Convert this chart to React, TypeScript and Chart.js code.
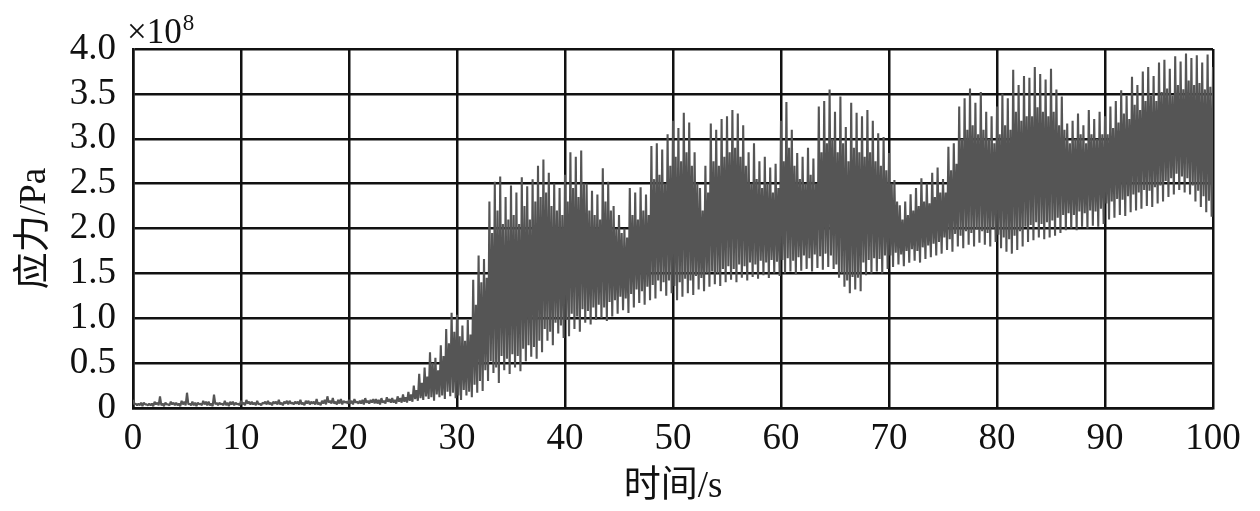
import React, { useEffect, useRef } from "react";
import { Chart, registerables } from "chart.js";

Chart.register(...registerables);

// Stress signal in units of 10^8 Pa.
// Each 0.5 s holds four extrema: peak (t), minor trough (t+0.125),
// minor peak (t+0.25), trough (t+0.375).

// peaks: outer local maxima at t = 0, 0.5, 1.0, ... 100 s
const peaks: number[] = [
  0.09, 0.05, 0.06, 0.05, 0.07, 0.13, 0.06, 0.07, 0.06, 0.08,
  0.17, 0.07, 0.06, 0.08, 0.07, 0.15, 0.06, 0.08, 0.07, 0.06,
  0.08, 0.09, 0.07, 0.08, 0.06, 0.08, 0.07, 0.09, 0.07, 0.08,
  0.07, 0.09, 0.08, 0.07, 0.10, 0.08, 0.13, 0.11, 0.09, 0.08,
  0.09, 0.10, 0.08, 0.11, 0.09, 0.10, 0.11, 0.12, 0.11, 0.13,
  0.15, 0.18, 0.25, 0.38, 0.45, 0.62, 0.56, 0.70, 0.88, 1.06,
  1.04, 0.92, 0.98, 1.43, 1.70, 1.66, 2.30, 2.52, 2.58, 2.35,
  2.48, 2.40, 2.57, 2.47, 2.55, 2.70, 2.77, 2.62, 2.50, 2.45,
  2.60, 2.85, 2.80, 2.87, 2.50, 2.42, 2.38, 2.67, 2.52, 2.25,
  2.15, 2.00, 2.45, 2.40, 2.46, 2.38, 2.92, 2.95, 2.88, 3.05,
  3.20, 3.12, 3.29, 3.18, 2.85, 2.45, 2.70, 3.17, 3.10, 3.22,
  3.25, 3.32, 3.28, 3.15, 2.85, 2.95, 2.75, 2.80, 2.68, 2.72,
  3.20, 3.41, 3.10, 2.84, 2.80, 2.90, 2.78, 3.36, 3.42, 3.55,
  3.30, 3.47, 3.13, 3.40, 3.29, 3.25, 3.32, 3.20, 3.06, 3.02,
  2.84, 2.54, 2.26, 2.30, 2.38, 2.45, 2.56, 2.50, 2.62, 2.68,
  2.55, 2.91, 2.95, 3.36, 3.45, 3.56, 3.40, 3.52, 3.30, 3.25,
  3.36, 3.50, 3.45, 3.77, 3.60, 3.70, 3.68, 3.80, 3.72, 3.66,
  3.78, 3.55, 3.47, 3.17, 3.20, 3.28, 3.15, 3.32, 3.22, 3.30,
  3.25, 3.36, 3.42, 3.54, 3.48, 3.69, 3.60, 3.75, 3.80, 3.70,
  3.85, 3.88, 3.78, 3.92, 3.86, 3.95, 3.90, 3.93, 3.85, 3.94,
  3.80,
];

// minorTroughs: inner local minima at t = 0.125, 0.625, ... s
const minorTroughs: number[] = [
  0.04, 0.03, 0.04, 0.03, 0.04, 0.03, 0.04, 0.04, 0.03, 0.04,
  0.04, 0.03, 0.04, 0.04, 0.03, 0.04, 0.04, 0.03, 0.04, 0.04,
  0.04, 0.05, 0.04, 0.04, 0.05, 0.04, 0.05, 0.04, 0.05, 0.05,
  0.05, 0.04, 0.05, 0.05, 0.04, 0.05, 0.06, 0.05, 0.05, 0.06,
  0.05, 0.06, 0.05, 0.06, 0.06, 0.05, 0.06, 0.07, 0.06, 0.07,
  0.07, 0.08, 0.10, 0.11, 0.13, 0.12, 0.15, 0.14, 0.18, 0.17,
  0.14, 0.20, 0.18, 0.26, 0.30, 0.42, 0.52, 0.45, 0.58, 0.55,
  0.60, 0.58, 0.66, 0.70, 0.68, 0.75, 0.88, 0.85, 0.95, 0.92,
  0.98, 1.05, 1.02, 1.10, 1.08, 1.12, 1.15, 1.12, 1.18, 1.20,
  1.24, 1.22, 1.27, 1.32, 1.30, 1.35, 1.37, 1.42, 1.40, 1.42,
  1.36, 1.40, 1.44, 1.42, 1.47, 1.45, 1.50, 1.52, 1.50, 1.55,
  1.58, 1.55, 1.60, 1.58, 1.62, 1.60, 1.64, 1.62, 1.65, 1.63,
  1.65, 1.67, 1.64, 1.68, 1.70, 1.67, 1.71, 1.69, 1.72, 1.70,
  1.60, 1.50, 1.42, 1.46, 1.45, 1.62, 1.65, 1.67, 1.66, 1.70,
  1.70, 1.73, 1.71, 1.75, 1.77, 1.75, 1.79, 1.81, 1.83, 1.85,
  1.90, 1.88, 1.94, 1.92, 1.97, 1.95, 1.99, 1.97, 1.95, 2.00,
  1.93, 1.90, 1.88, 1.92, 1.97, 2.02, 2.04, 2.07, 2.05, 2.07,
  2.09, 2.12, 2.15, 2.17, 2.15, 2.19, 2.17, 2.20, 2.19, 2.22,
  2.28, 2.30, 2.33, 2.32, 2.36, 2.38, 2.40, 2.43, 2.42, 2.46,
  2.48, 2.53, 2.56, 2.61, 2.58, 2.56, 2.48, 2.42, 2.36, 2.31,
];

// minorPeaks: inner local maxima at t = 0.25, 0.75, ... s
const minorPeaks: number[] = [
  0.05, 0.06, 0.04, 0.05, 0.06, 0.05, 0.04, 0.06, 0.05, 0.07,
  0.05, 0.06, 0.05, 0.07, 0.05, 0.06, 0.05, 0.06, 0.07, 0.05,
  0.06, 0.07, 0.06, 0.05, 0.07, 0.06, 0.07, 0.06, 0.08, 0.06,
  0.07, 0.06, 0.08, 0.07, 0.06, 0.09, 0.08, 0.07, 0.10, 0.07,
  0.08, 0.07, 0.09, 0.08, 0.10, 0.09, 0.08, 0.10, 0.09, 0.11,
  0.12, 0.15, 0.20, 0.28, 0.35, 0.50, 0.42, 0.58, 0.72, 0.85,
  0.80, 0.75, 0.82, 1.15, 1.40, 1.45, 1.95, 2.20, 2.05, 2.10,
  2.15, 2.05, 2.25, 2.10, 2.30, 2.35, 2.40, 2.25, 2.20, 2.15,
  2.30, 2.45, 2.35, 2.50, 2.20, 2.15, 2.10, 2.30, 2.20, 2.00,
  1.95, 1.90, 2.15, 2.10, 2.20, 2.15, 2.55, 2.60, 2.50, 2.70,
  2.80, 2.75, 2.85, 2.70, 2.50, 2.20, 2.40, 2.75, 2.70, 2.80,
  2.85, 2.90, 2.80, 2.70, 2.50, 2.55, 2.45, 2.50, 2.40, 2.45,
  2.75, 2.90, 2.70, 2.55, 2.50, 2.60, 2.50, 2.85, 2.95, 3.00,
  2.85, 2.95, 2.75, 2.90, 2.85, 2.80, 2.85, 2.75, 2.70, 2.65,
  2.50, 2.30, 2.10, 2.15, 2.20, 2.25, 2.30, 2.28, 2.35, 2.40,
  2.40, 2.65, 2.72, 3.00, 3.10, 3.15, 3.05, 3.10, 3.00, 2.95,
  3.05, 3.15, 3.10, 3.30, 3.20, 3.25, 3.25, 3.35, 3.30, 3.25,
  3.30, 3.15, 3.10, 2.95, 3.00, 3.05, 2.95, 3.05, 3.00, 3.05,
  3.05, 3.12, 3.18, 3.28, 3.22, 3.38, 3.32, 3.42, 3.48, 3.42,
  3.52, 3.56, 3.48, 3.60, 3.55, 3.65, 3.60, 3.62, 3.55, 3.58,
];

// troughs: outer local minima at t = 0.375, 0.875, ... s
const troughs: number[] = [
  0.03, 0.02, 0.03, 0.02, 0.03, 0.02, 0.03, 0.03, 0.02, 0.03,
  0.03, 0.02, 0.03, 0.03, 0.02, 0.03, 0.03, 0.02, 0.03, 0.03,
  0.03, 0.04, 0.03, 0.03, 0.04, 0.03, 0.04, 0.03, 0.04, 0.04,
  0.04, 0.03, 0.04, 0.04, 0.03, 0.04, 0.05, 0.04, 0.04, 0.05,
  0.04, 0.05, 0.04, 0.05, 0.05, 0.04, 0.05, 0.06, 0.05, 0.06,
  0.06, 0.07, 0.08, 0.09, 0.10, 0.08, 0.12, 0.10, 0.13, 0.11,
  0.09, 0.14, 0.12, 0.17, 0.19, 0.30, 0.39, 0.28, 0.42, 0.38,
  0.45, 0.41, 0.52, 0.57, 0.55, 0.62, 0.75, 0.70, 0.83, 0.78,
  0.80, 0.88, 0.85, 0.95, 0.93, 0.98, 1.00, 0.97, 1.02, 1.05,
  1.09, 1.06, 1.12, 1.17, 1.15, 1.20, 1.22, 1.30, 1.25, 1.28,
  1.20, 1.24, 1.28, 1.26, 1.32, 1.30, 1.35, 1.38, 1.36, 1.40,
  1.43, 1.40, 1.45, 1.42, 1.46, 1.44, 1.48, 1.45, 1.50, 1.47,
  1.50, 1.52, 1.49, 1.53, 1.55, 1.52, 1.56, 1.54, 1.57, 1.55,
  1.45, 1.35, 1.28, 1.32, 1.30, 1.48, 1.50, 1.52, 1.50, 1.55,
  1.57, 1.60, 1.58, 1.62, 1.64, 1.62, 1.66, 1.68, 1.70, 1.72,
  1.76, 1.74, 1.80, 1.78, 1.82, 1.80, 1.84, 1.82, 1.80, 1.85,
  1.78, 1.74, 1.72, 1.76, 1.80, 1.85, 1.87, 1.90, 1.88, 1.90,
  1.92, 1.95, 1.98, 2.00, 1.98, 2.02, 2.00, 2.03, 2.02, 2.05,
  2.10, 2.12, 2.15, 2.14, 2.18, 2.20, 2.22, 2.25, 2.24, 2.28,
  2.30, 2.35, 2.38, 2.43, 2.40, 2.38, 2.30, 2.24, 2.18, 2.13,
];

const sampleStep = 0.5; // s per group of four extrema
const xTicks: number[] = [0, 10, 20, 30, 40, 50, 60, 70, 80, 90, 100];
const yTicks: number[] = [0, 0.5, 1.0, 1.5, 2.0, 2.5, 3.0, 3.5, 4.0];
const xTitle = "时间/s";
const yTitle = "应力/Pa";
const exponentBase = "×10";
const exponent = "8";

const SERIF = "'Liberation Serif', 'Times New Roman', 'Noto Sans CJK SC', serif";

export default function App() {
  const ref = useRef<HTMLCanvasElement | null>(null);

  useEffect(() => {
    const canvas = ref.current;
    if (!canvas) return;
    const pts: { x: number; y: number }[] = [];
    const q = sampleStep / 4;
    for (let i = 0; i < peaks.length; i++) {
      const t = i * sampleStep;
      pts.push({ x: t, y: peaks[i] });
      if (i < troughs.length) {
        pts.push({ x: t + q, y: minorTroughs[i] });
        pts.push({ x: t + 2 * q, y: minorPeaks[i] });
        pts.push({ x: t + 3 * q, y: troughs[i] });
      }
    }

    const exponentPlugin = {
      id: "exponentLabel",
      afterDraw(chart: any) {
        const ctx = chart.ctx;
        const left = chart.chartArea.left;
        const top = chart.chartArea.top;
        ctx.save();
        ctx.fillStyle = "#111";
        ctx.textBaseline = "alphabetic";
        ctx.textAlign = "left";
        ctx.font = `35px ${SERIF}`;
        ctx.fillText(exponentBase, left - 6, top - 6);
        const w = ctx.measureText(exponentBase).width;
        ctx.font = `23px ${SERIF}`;
        ctx.fillText(exponent, left - 6 + w + 1, top - 19);
        ctx.restore();
      },
    };

    const chart = new Chart(canvas, {
      type: "line",
      data: {
        datasets: [
          {
            data: pts,
            borderColor: "#555555",
            borderWidth: 2.1,
            borderJoinStyle: "bevel",
            pointRadius: 0,
            tension: 0,
            fill: false,
          },
        ],
      },
      options: {
        animation: false,
        responsive: false,
        maintainAspectRatio: false,
        parsing: false,
        normalized: true,
        layout: { padding: { left: 0, right: 47, top: 49, bottom: 0 } },
        plugins: {
          legend: { display: false },
          tooltip: { enabled: false },
        },
        scales: {
          x: {
            type: "linear",
            min: 0,
            max: 100,
            afterBuildTicks: (s: any) => {
              s.ticks = xTicks.map((v) => ({ value: v }));
            },
            afterFit: (s: any) => {
              s.height = 103;
            },
            ticks: {
              color: "#111",
              font: { family: SERIF, size: 37 },
              padding: 9,
              maxRotation: 0,
              autoSkip: false,
              callback: (v: any) => String(v),
            },
            grid: { color: "#111", lineWidth: 2.5, drawTicks: false },
            border: { color: "#111", width: 2.5 },
            title: {
              display: true,
              text: xTitle,
              color: "#111",
              font: { family: SERIF, size: 37 },
              padding: { top: 0, bottom: 2 },
            },
          },
          y: {
            type: "linear",
            min: 0,
            max: 4,
            afterBuildTicks: (s: any) => {
              s.ticks = yTicks.map((v) => ({ value: v }));
            },
            afterFit: (s: any) => {
              s.width = 133;
            },
            ticks: {
              color: "#111",
              font: { family: SERIF, size: 37 },
              padding: 17,
              autoSkip: false,
              callback: (v: any) => (Number(v) === 0 ? "0" : Number(v).toFixed(1)),
            },
            grid: { color: "#111", lineWidth: 2.5, drawTicks: false },
            border: { color: "#111", width: 2.5 },
            title: {
              display: true,
              text: yTitle,
              color: "#111",
              font: { family: SERIF, size: 37 },
              padding: { top: 13, bottom: 0 },
            },
          },
        },
      },
      plugins: [exponentPlugin],
    });
    return () => chart.destroy();
  }, []);

  return (
    <div style={{ position: "fixed", left: 0, top: 0, width: 1260, height: 511, background: "#fff" }}>
      <canvas ref={ref} width={1260} height={511} style={{ display: "block" }} />
    </div>
  );
}
